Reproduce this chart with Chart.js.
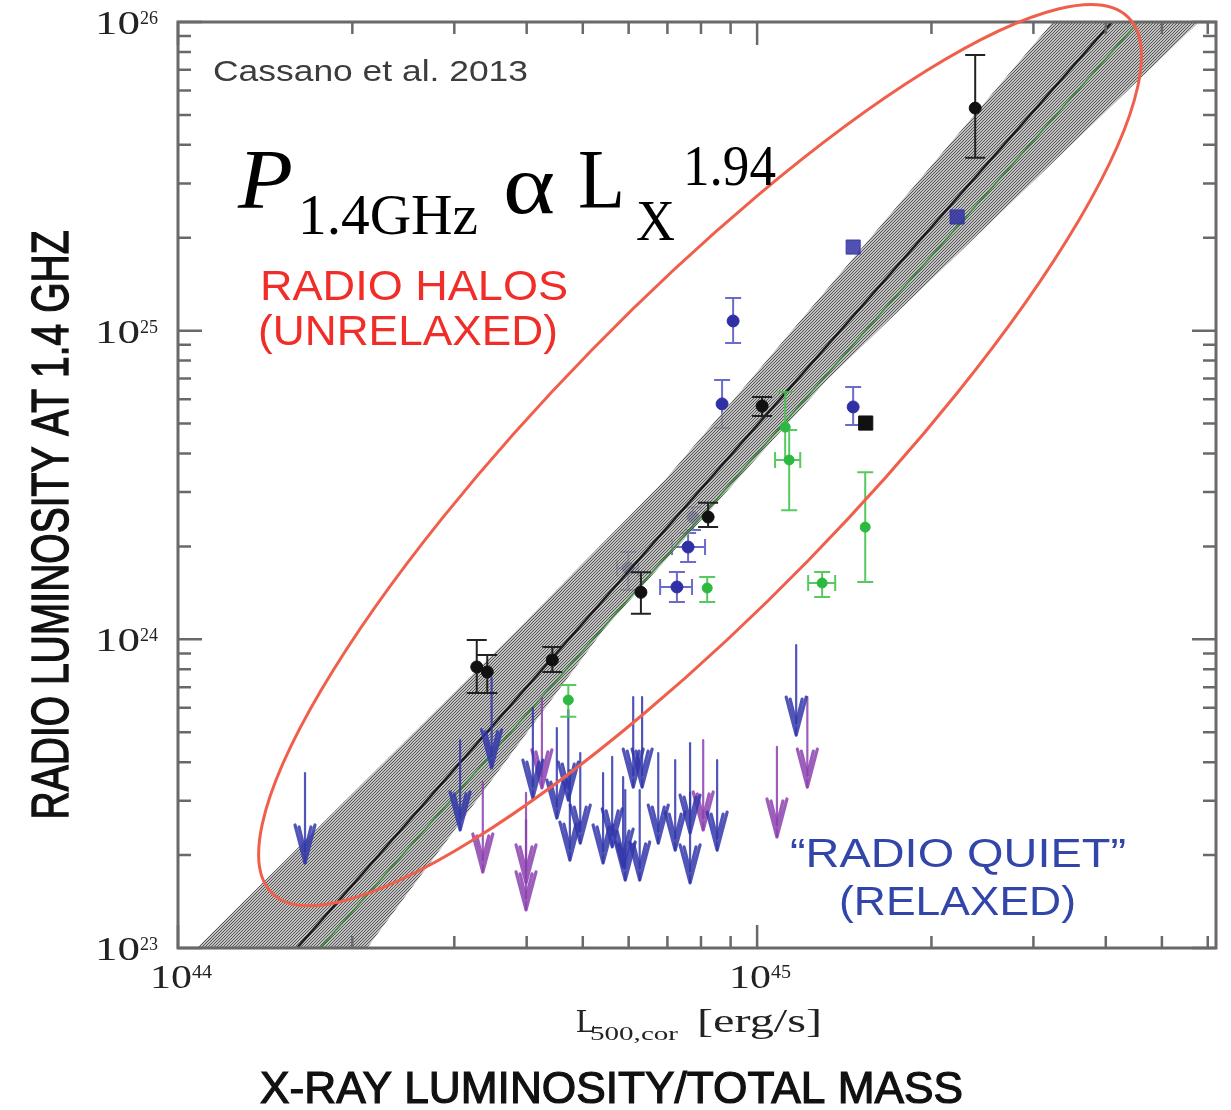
<!DOCTYPE html>
<html>
<head>
<meta charset="utf-8">
<script src="https://cdn.jsdelivr.net/npm/chart.js@4.4.1/dist/chart.umd.min.js"></script>
<style>
  body { margin: 0; background: #fff; }
  #myChart { display: block; }
</style>
</head>
<body>
<canvas id="myChart" width="1231" height="1110" style="width:1231px;height:1110px"></canvas>
<script>
// ---- data (L in erg/s, P in W/Hz) ----
const fitL = [1.605e44, 4.10e45];
const fitP = [1e23, 1e26];
const greenFitL = [1.76e44, 4.55e45];
const greenFitP = [1e23, 1e26];

// scatter band edges (upper/left edge and lower/right edge)
const bandP = [1e23, 1.07e24, 3.28e24, 6.92e24, 1e26];
const bandUpperL = [1.078e44, 3.85e44, 6.93e44, 9.73e44, 3.24e45];
const bandLowerL = [2.12e44, 5.42e44, 9.23e44, 1.32e45, 5.79e45];

// radio halos, black circles
const blackL = [3.28e44, 3.42e44, 4.43e44, 6.30e44, 8.23e44, 1.02e45, 2.38e45];
const blackP = [8.14e23, 7.84e23, 8.57e23, 1.42e24, 2.49e24, 5.70e24, 5.26e25];
const blackPlo = [6.70e23, 6.70e23, 7.84e23, 1.21e24, 2.31e24, 5.29e24, 3.63e25];
const blackPhi = [9.95e23, 8.90e23, 9.44e23, 1.65e24, 2.77e24, 6.10e24, 7.82e25];
const blackSqL = [1.54e45];
const blackSqP = [5.02e24];

// blue circles
const blueL = [9.09e44, 8.70e44, 1.465e45, 7.60e44, 7.27e44, 5.99e44, 7.75e44];
const blueP = [1.075e25, 5.79e24, 5.66e24, 1.99e24, 1.478e24, 1.70e24, 2.49e24];
const bluePlo = [9.12e24, 4.84e24, 4.95e24, 1.78e24, 1.32e24, 1.445e24, 2.26e24];
const bluePhi = [1.276e25, 6.92e24, 6.57e24, 2.21e24, 1.652e24, 1.92e24, 2.68e24];
const blueLlo = [null, null, null, 7.13e44, 6.80e44, 5.73e44, null];
const blueLhi = [null, null, null, 8.13e44, 7.72e44, 6.23e44, null];
const blueSqL = [1.465e45, 2.215e45];
const blueSqP = [1.866e25, 2.335e25];

// green circles
const greenL = [4.72e44, 8.20e44, 1.118e45, 1.136e45, 1.537e45, 1.295e45];
const greenP = [6.36e23, 1.466e24, 4.87e24, 3.81e24, 2.31e24, 1.522e24];
const greenPlo = [5.61e23, 1.32e24, 3.81e24, 2.62e24, 1.534e24, 1.372e24];
const greenPhi = [7.11e23, 1.592e24, 6.33e24, 4.77e24, 3.48e24, 1.652e24];
const greenLlo = [null, null, null, 1.074e45, null, 1.225e45];
const greenLhi = [null, null, null, 1.187e45, null, 1.364e45];

// upper limits (radio quiet)
const blueLimL = [1.657e44, 3.07e44, 3.48e44, 4.10e44, 4.51e44, 4.72e44, 4.75e44, 4.95e44, 5.42e44, 5.62e44, 5.87e44,
                  6.11e44, 6.33e44, 5.92e44, 6.27e44, 6.75e44, 7.22e44, 7.66e44, 7.66e44, 8.53e44, 1.168e45];
const blueLimP = [3.69e23, 4.72e23, 7.50e23, 5.99e23, 5.16e23, 5.90e23, 3.77e23, 4.28e23, 3.69e23, 4.16e23, 3.58e23,
                  6.50e23, 6.50e23, 3.25e23, 3.25e23, 4.28e23, 4.06e23, 4.61e23, 3.18e23, 4.06e23, 9.58e23];
const purpleLimL = [3.36e44, 3.99e44, 3.99e44, 4.25e44, 8.07e44, 1.082e45, 1.221e45];
const purpleLimP = [3.45e23, 3.18e23, 2.60e23, 6.46e23, 4.72e23, 4.48e23, 6.50e23];

// ellipse: centre, end of major axis, end of minor axis
const ellipseL = [7.97e44, 4.37e45, 1.225e45];
const ellipseP = [3.95e24, 1.037e26, 1.80e24];

// axis ticks
const xMajor = [1e44, 1e45];
const xExp = ['44', '45'];
const xMinor = [2e44, 3e44, 4e44, 5e44, 6e44, 7e44, 8e44, 9e44, 2e45, 3e45, 4e45, 5e45, 6e45];
const yMajor = [1e23, 1e24, 1e25, 1e26];
const yExp = ['23', '24', '25', '26'];
const yMinor = [];
[1e23, 1e24, 1e25].forEach(d => { for (let m = 2; m <= 9; m++) yMinor.push(m * d); });

const pts = (xs, ys, lo, hi, xlo, xhi) => xs.map((v, i) => ({
  x: v, y: ys[i],
  yLo: lo ? lo[i] : null, yHi: hi ? hi[i] : null,
  xLo: xlo ? xlo[i] : null, xHi: xhi ? xhi[i] : null
}));

const ctx = document.getElementById('myChart').getContext('2d');

// hatched grey band
function hatch() {
  const c = document.createElement('canvas');
  c.width = 3; c.height = 3;
  const g = c.getContext('2d');
  g.fillStyle = 'rgba(175,175,175,0.78)';
  g.fillRect(0, 0, 3, 3);
  g.fillStyle = 'rgba(55,55,55,0.78)';
  g.fillRect(0, 2, 1, 1);
  g.fillRect(1, 1, 1, 1);
  g.fillRect(2, 0, 1, 1);
  return ctx.createPattern(c, 'repeat');
}

const bandData = bandUpperL.map((v, i) => ({x: v, y: bandP[i]}))
  .concat(bandLowerL.map((v, i) => ({x: v, y: bandP[i]})).reverse());

function fitText(c, text, x, y, w, font, color, align, heavy) {
  c.save();
  c.font = font;
  c.fillStyle = color;
  c.textAlign = 'left';
  c.textBaseline = 'alphabetic';
  const m = c.measureText(text).width;
  c.translate(x, y);
  c.scale(w / m, 1);
  const ox = align === 'center' ? -m / 2 : 0;
  c.fillText(text, ox, 0);
  if (heavy) {
    c.strokeStyle = color;
    c.lineWidth = heavy;
    c.strokeText(text, ox, 0);
  }
  c.restore();
}

const deco = {
  id: 'deco',
  beforeDatasetDraw(chart, args) {
    const ds = chart.data.datasets[args.index];
    if (!ds.errColor) return;
    const c = chart.ctx, xs = chart.scales.x, ys = chart.scales.y;
    const cap = ds.capW;
    c.save();
    c.strokeStyle = ds.errColor;
    c.lineWidth = 2;
    c.beginPath();
    ds.data.forEach(d => {
      const px = xs.getPixelForValue(d.x), py = ys.getPixelForValue(d.y);
      if (d.yLo) {
        const a = ys.getPixelForValue(d.yHi), b = ys.getPixelForValue(d.yLo);
        c.moveTo(px, a); c.lineTo(px, b);
        c.moveTo(px - cap, a); c.lineTo(px + cap, a);
        c.moveTo(px - cap, b); c.lineTo(px + cap, b);
      }
      if (d.xLo) {
        const a = xs.getPixelForValue(d.xLo), b = xs.getPixelForValue(d.xHi);
        c.moveTo(a, py); c.lineTo(b, py);
        c.moveTo(a, py - cap); c.lineTo(a, py + cap);
        c.moveTo(b, py - cap); c.lineTo(b, py + cap);
      }
    });
    c.stroke();
    c.restore();
  },
  afterDatasetDraw(chart, args) {
    const ds = chart.data.datasets[args.index];
    if (!ds.arrowColor) return;
    const c = chart.ctx;
    const meta = chart.getDatasetMeta(args.index);
    c.save();
    c.strokeStyle = ds.arrowColor;
    c.lineCap = 'round';
    c.lineJoin = 'round';
    meta.data.forEach(p => {
      const len = 90;
      const tip = p.y + len;
      c.lineWidth = 2.2;
      c.beginPath();
      c.moveTo(p.x, p.y); c.lineTo(p.x, tip);
      c.stroke();
      c.lineWidth = 3.2;
      c.beginPath();
      c.moveTo(p.x - 10, tip - 38); c.lineTo(p.x, tip); c.lineTo(p.x + 10, tip - 38);
      c.moveTo(p.x - 6, tip - 36); c.lineTo(p.x, tip - 12); c.lineTo(p.x + 6, tip - 36);
      c.stroke();
    });
    c.restore();
  },
  afterDraw(chart) {
    const c = chart.ctx, xs = chart.scales.x, ys = chart.scales.y;
    const {left, right, top, bottom} = chart.chartArea;

    // frame and inward ticks
    c.save();
    c.strokeStyle = 'rgb(105,105,105)';
    c.lineWidth = 2.5;
    c.beginPath();
    const tx = (v, len) => {
      const px = xs.getPixelForValue(v);
      c.moveTo(px, bottom); c.lineTo(px, bottom - len);
      c.moveTo(px, top); c.lineTo(px, top + len);
    };
    const ty = (v, len) => {
      const py = ys.getPixelForValue(v);
      c.moveTo(left, py); c.lineTo(left + len, py);
      c.moveTo(right, py); c.lineTo(right - len, py);
    };
    xMajor.forEach(v => tx(v, 23));
    xMinor.forEach(v => tx(v, 12));
    yMajor.forEach(v => ty(v, 24));
    yMinor.forEach(v => ty(v, 13));
    c.stroke();
    c.lineWidth = 3;
    c.strokeRect(left, top, right - left, bottom - top);
    c.restore();

    // tick labels 10^n
    xMajor.forEach((v, i) => {
      const px = xs.getPixelForValue(v);
      fitText(c, '10', px - 28, bottom + 40, 42, '34px "Liberation Serif"', '#222');
      fitText(c, xExp[i], px + 14, bottom + 30, 20, '18px "Liberation Serif"', '#222');
    });
    yMajor.forEach((v, i) => {
      const py = ys.getPixelForValue(v);
      fitText(c, '10', left - 83, py + 12, 45, '34px "Liberation Serif"', '#222');
      fitText(c, yExp[i], left - 38, py + 2, 18, '18px "Liberation Serif"', '#222');
    });

    // red ellipse
    const cx = xs.getPixelForValue(ellipseL[0]), cy = ys.getPixelForValue(ellipseP[0]);
    const mx = xs.getPixelForValue(ellipseL[1]), my = ys.getPixelForValue(ellipseP[1]);
    const nx = xs.getPixelForValue(ellipseL[2]), ny = ys.getPixelForValue(ellipseP[2]);
    c.save();
    c.strokeStyle = 'rgb(240,95,75)';
    c.lineWidth = 3;
    c.beginPath();
    c.ellipse(cx, cy, Math.hypot(mx - cx, my - cy), Math.hypot(nx - cx, ny - cy), Math.atan2(my - cy, mx - cx), 0, Math.PI * 2);
    c.stroke();
    c.restore();

    // annotations
    fitText(c, 'Cassano et al. 2013', 213, 81, 315, '30px "Liberation Sans"', '#3c3c3c');
    fitText(c, 'P', 238, 208, 55, 'italic 84px "Liberation Serif"', '#000');
    fitText(c, '1.4GHz', 298, 234, 180, '58px "Liberation Serif"', '#000');
    fitText(c, '\u03b1', 503, 213, 52, '84px "Liberation Serif"', '#000');
    fitText(c, 'L', 578, 208, 47, '84px "Liberation Serif"', '#000');
    fitText(c, 'X', 636, 240, 39, '58px "Liberation Serif"', '#000');
    fitText(c, '1.94', 683, 185, 93, '58px "Liberation Serif"', '#000');

    fitText(c, 'RADIO HALOS', 260, 300, 308, '42px "Liberation Sans"', 'rgb(240,45,40)');
    fitText(c, '(UNRELAXED)', 258, 345, 300, '42px "Liberation Sans"', 'rgb(240,45,40)');
    fitText(c, '\u201cRADIO QUIET\u201d', 790, 867, 336, '40px "Liberation Sans"', 'rgb(50,70,170)');
    fitText(c, '(RELAXED)', 839, 915, 237, '40px "Liberation Sans"', 'rgb(50,70,170)');

    // axis titles
    fitText(c, 'L', 576, 1032, 20, '34px "Liberation Serif"', '#222');
    fitText(c, '500,cor', 590, 1040, 88, '19px "Liberation Serif"', '#222');
    fitText(c, '[erg/s]', 697, 1032, 125, '34px "Liberation Serif"', '#222');
    fitText(c, 'X-RAY LUMINOSITY/TOTAL MASS', 260, 1103, 703, '44px "Liberation Sans"', '#111', 'left', 1.2);
    c.save();
    c.translate(68, 525);
    c.rotate(-Math.PI / 2);
    fitText(c, 'RADIO LUMINOSITY AT 1.4 GHZ', 0, 0, 589, '51px "Liberation Sans"', '#111', 'center', 1.4);
    c.restore();
  }
};

new Chart(ctx, {
  type: 'scatter',
  data: {
    datasets: [
      {
        data: bandData, showLine: true, fill: 'shape',
        backgroundColor: hatch(), borderColor: 'rgba(0,0,0,0)', borderWidth: 0,
        pointRadius: 0, order: 9
      },
      {
        data: fitL.map((v, i) => ({x: v, y: fitP[i]})), showLine: true,
        borderColor: '#1c1c1c', borderWidth: 2.5, pointRadius: 0, order: 8
      },
      {
        data: greenFitL.map((v, i) => ({x: v, y: greenFitP[i]})), showLine: true,
        borderColor: 'rgb(55,140,55)', borderWidth: 1.6, pointRadius: 0, order: 8
      },
      {
        data: pts(blueL, blueP, bluePlo, bluePhi, blueLlo, blueLhi),
        pointStyle: 'circle', pointRadius: 6, backgroundColor: 'rgb(48,48,165)', borderColor: 'rgb(48,48,165)',
        errColor: 'rgba(70,70,190,0.8)', capW: 8, order: 10
      },
      {
        data: pts(blueSqL, blueSqP),
        pointStyle: 'rect', pointRadius: 10, backgroundColor: 'rgba(50,50,165,0.85)', borderColor: 'rgba(50,50,165,0.85)',
        order: 7
      },
      {
        data: pts(blueLimL, blueLimP), pointRadius: 0,
        arrowColor: 'rgba(50,55,170,0.85)', order: 3
      },
      {
        data: pts(purpleLimL, purpleLimP), pointRadius: 0,
        arrowColor: 'rgba(140,65,175,0.85)', order: 3
      },
      {
        data: pts(greenL, greenP, greenPlo, greenPhi, greenLlo, greenLhi),
        pointStyle: 'circle', pointRadius: 5, backgroundColor: 'rgb(45,185,65)', borderColor: 'rgb(45,185,65)',
        errColor: 'rgba(70,195,80,0.9)', capW: 8, order: 2
      },
      {
        data: pts(blackL, blackP, blackPlo, blackPhi),
        pointStyle: 'circle', pointRadius: 6, backgroundColor: '#111', borderColor: '#111',
        errColor: '#222', capW: 10, order: 1
      },
      {
        data: pts(blackSqL, blackSqP),
        pointStyle: 'rect', pointRadius: 10, backgroundColor: '#111', borderColor: '#111',
        order: 1
      }
    ]
  },
  options: {
    responsive: false,
    animation: false,
    layout: { padding: { left: 178, right: 15, top: 22, bottom: 162 } },
    plugins: {
      legend: { display: false },
      tooltip: { enabled: false }
    },
    scales: {
      x: { type: 'logarithmic', min: 1e44, max: 6.2e45, display: false },
      y: { type: 'logarithmic', min: 1e23, max: 1e26, display: false }
    }
  },
  plugins: [deco]
});
</script>
</body>
</html>
